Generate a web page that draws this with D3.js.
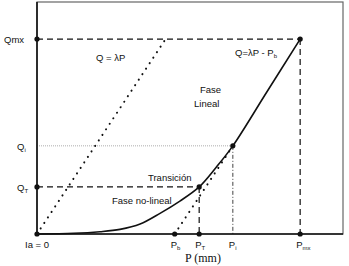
<!DOCTYPE html>
<html>
<head>
<meta charset="utf-8">
<script src="https://cdn.jsdelivr.net/npm/d3@7"></script>
<style>
  body { margin: 0; background: #fff; }
  text { font-family: "Liberation Sans", Arial, sans-serif; font-size: 9.5px; fill: #111; }
  .serif { font-family: "Liberation Serif", "Times New Roman", serif; font-size: 12px; }
</style>
</head>
<body>
<div id="viz"></div>
<script>
// key values (P in mm, Q in mm)
var lambda = 2;
var Pb = 45, PT = 53, Pi = 64, Pmx = 86;
var QT = 20.3, Qi = 38, Qmx = 84;

// runoff curve Q(P)
var curveP = [0, 12, 20.6, 27.1, 33.7, 40.2, 46.7, PT, 58.7, Pi, 75, Pmx];
var curveQ = [0, 0.3, 1.0, 2.0, 4.3, 8.9, 14.2, QT, 29, Qi, 61, Qmx];

var w = 349, h = 266;
var margin = {top: 2, right: 6, bottom: 32, left: 37};
var width = w - margin.left - margin.right,
    height = h - margin.top - margin.bottom;

var x = d3.scaleLinear().domain([0, 100]).range([0, width]);
var y = d3.scaleLinear().domain([0, 100]).range([height, 0]);

var svg = d3.select("#viz").append("svg")
  .attr("width", w).attr("height", h)
  .append("g")
  .attr("transform", "translate(" + margin.left + "," + margin.top + ")");

// frame
svg.append("rect").attr("width", width).attr("height", height)
  .attr("fill", "none").attr("stroke", "#666").attr("stroke-width", 1.2);

function seg(p1, q1, p2, q2) {
  return svg.append("line")
    .attr("x1", x(p1)).attr("y1", y(q1))
    .attr("x2", x(p2)).attr("y2", y(q2))
    .attr("stroke", "#111").attr("fill", "none");
}

// guide lines
seg(0, Qmx, Pmx, Qmx).attr("stroke-width", 1.2).attr("stroke-dasharray", "6 4");
seg(Pmx, Qmx, Pmx, 0).attr("stroke-width", 1.2).attr("stroke-dasharray", "6 4");
seg(0, QT, PT, QT).attr("stroke-width", 1.2).attr("stroke-dasharray", "6 4");
seg(PT, QT, PT, 0).attr("stroke-width", 1.2).attr("stroke-dasharray", "6 4");
seg(0, Qi, Pi, Qi).attr("stroke", "#999").attr("stroke-width", 0.8).attr("stroke-dasharray", "1 1");
seg(Pi, Qi, Pi, 0).attr("stroke-width", 0.8).attr("stroke-dasharray", "4 2 1 2");

// Q = lambda P and Q = lambda (P - Pb)
seg(0, 0, Qmx / lambda, Qmx).attr("stroke-width", 2)
  .attr("stroke-linecap", "round").attr("stroke-dasharray", "0.1 6.5");
seg(Pb, 0, Pi, lambda * (Pi - Pb)).attr("stroke-width", 2)
  .attr("stroke-linecap", "round").attr("stroke-dasharray", "0.1 6.5");

// curve
var line = d3.line()
  .x(function(d, i) { return x(curveP[i]); })
  .y(function(d, i) { return y(curveQ[i]); })
  .curve(d3.curveCatmullRom.alpha(0.5));
svg.append("path").datum(curveP)
  .attr("d", line).attr("fill", "none")
  .attr("stroke", "#111").attr("stroke-width", 1.6);

// axes
seg(0, 0, 0, 100).attr("stroke-width", 1.6);
seg(0, 0, 100, 0).attr("stroke-width", 1.6);

// points
var pts = [[0, 0], [0, Qmx], [0, QT], [PT, QT], [Pi, Qi], [Pmx, Qmx], [Pb, 0], [PT, 0], [Pmx, 0]];
svg.selectAll("circle.pt").data(pts).enter().append("circle")
  .attr("cx", function(d) { return x(d[0]); })
  .attr("cy", function(d) { return y(d[1]); })
  .attr("r", 2.6).attr("fill", "#111");

// labels with subscripts
function label(px, py, main, sub, anchor) {
  var t = svg.append("text").attr("x", px).attr("y", py).attr("text-anchor", anchor || "start");
  t.append("tspan").text(main);
  if (sub) t.append("tspan").attr("font-size", "6px").attr("dy", 2).text(sub);
  return t;
}

label(-33, y(Qmx) + 4, "Qmx");
label(-20, y(Qi) + 4, "Q", "i");
label(-20, y(QT) + 4, "Q", "T");
label(-12, height + 14, "Ia = 0");

label(x(Pb) - 4, height + 14, "P", "b");
label(x(PT) - 4, height + 14, "P", "T");
label(x(Pi) - 4, height + 14, "P", "i");
label(x(Pmx) - 4, height + 14, "P", "mx");

svg.append("text").attr("class", "serif")
  .attr("x", 166).attr("y", height + 28).attr("text-anchor", "middle").text("P (mm)");

label(59, 59, "Q = λP");
label(198, 54, "Q=λP - P", "b");
label(163, 91, "Fase");
label(157, 105, "Lineal");
label(111, 179, "Transición");
label(75, 202, "Fase no-lineal");
</script>
</body>
</html>
